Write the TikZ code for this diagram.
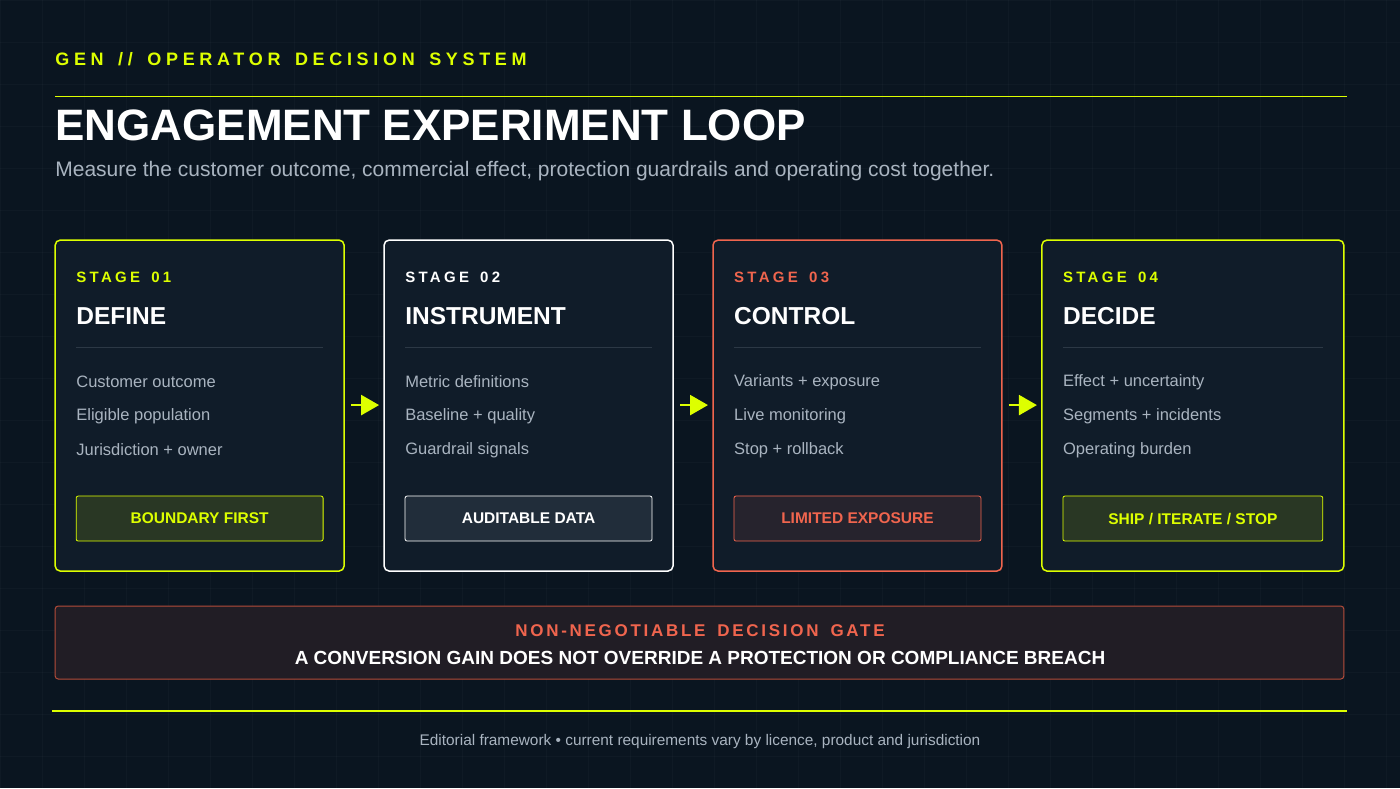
\documentclass[tikz,border=0pt]{standalone}
\usepackage{fontspec}
\usetikzlibrary{arrows.meta}
\setmainfont{Liberation Sans}
\newfontfamily\kickfont{Liberation Sans}[LetterSpace=26,WordSpace=1.5]
\newfontfamily\labfont{Liberation Sans}[LetterSpace=22,WordSpace=1.5]
\newfontfamily\gatefont{Liberation Sans}[LetterSpace=16,WordSpace=1.6]
\begin{document}
\definecolor{bg}{HTML}{0A1520}
\definecolor{card}{HTML}{101C29}
\definecolor{yel}{HTML}{DDFF00}
\definecolor{red}{HTML}{F0654E}
\definecolor{gtxt}{HTML}{A9B4C0}
\definecolor{rule}{HTML}{2C3845}
\begin{tikzpicture}[x=1pt,y=-1pt,
 cardbox/.style={draw=#1,line width=1.5pt,rounded corners=5pt,fill=card},
 lab/.style={anchor=west,font=\labfont\bfseries\fontsize{15}{17}\selectfont},
 ttl/.style={anchor=west,text=white,font=\bfseries\fontsize{24.5}{26}\selectfont},
 itm/.style={anchor=west,text=gtxt,font=\fontsize{16.5}{18}\selectfont},
 btn/.style={draw=#1,rounded corners=2pt,line width=0.8pt,font=\bfseries\fontsize{15.5}{17}\selectfont,text=#1},
 arr/.style={yel,line width=2.5pt,-{Triangle[length=18pt,width=20pt]}}]
\fill[bg] (0,0) rectangle (1400,788);
\foreach \x in {0,42,...,1400} \draw[white,opacity=0.025] (\x,0)--(\x,788);
\foreach \y in {0,42,...,788} \draw[white,opacity=0.025] (0,\y)--(1400,\y);
\useasboundingbox (0,0) rectangle (1400,788);
\node[anchor=west,inner sep=0pt,text=yel,font=\kickfont\bfseries\fontsize{18}{20}\selectfont] (kick) at (55,59) {GEN // OPERATOR DECISION SYSTEM};
\draw[yel,line width=1.2pt] (55,96) -- (1347,96);
\node[anchor=west,inner sep=0pt,text=white,font=\bfseries\fontsize{44}{48}\selectfont] (title) at (55,125) {ENGAGEMENT EXPERIMENT LOOP};
\node[anchor=west,inner sep=0pt,text=gtxt,font=\fontsize{21}{24}\selectfont] (sub) at (55,171) {Measure the customer outcome, commercial effect, protection guardrails and operating cost together.};
% cards
\foreach \i/\xa/\xb/\c/\lc/\n/\t/\a/\b/\cc/\btxt/\bf in {
 1/55/344/yel/yel/01/DEFINE/Customer outcome/Eligible population/Jurisdiction + owner/BOUNDARY FIRST/yel!12!card,
 2/384/673/white/white/02/INSTRUMENT/Metric definitions/Baseline + quality/Guardrail signals/AUDITABLE DATA/rule!60!card,
 3/713/1002/red/red/03/CONTROL/Variants + exposure/Live monitoring/Stop + rollback/LIMITED EXPOSURE/red!10!card,
 4/1042/1344/yel/yel/04/DECIDE/Effect + uncertainty/Segments + incidents/Operating burden/{SHIP / ITERATE / STOP}/yel!12!card}{
 \draw[cardbox=\c] (\xa,240) rectangle (\xb,571);
 \node[lab,inner sep=0pt,text=\lc] (l\i) at (\xa+21,277) {STAGE \n};
 \node[ttl,inner sep=0pt] (t\i) at (\xa+21,316) {\t};
 \draw[rule,line width=1pt] (\xa+21,347) -- (\xb-21,347);
 \node[itm,inner sep=0pt] (a\i) at (\xa+21,382) {\a};
 \node[itm,inner sep=0pt] (b\i) at (\xa+21,416) {\b};
 \node[itm,inner sep=0pt] (d\i) at (\xa+21,450) {\cc};
 \node[btn=\c,fill=\bf,minimum width={\xb-\xa-42},minimum height=45] (bt\i) at ({(\xa+\xb)/2},518.5) {\btxt};
}
\foreach \x/\i in {351/1,680/2,1009/3}{
 \coordinate (s\i) at (\x,405);
 \coordinate (e\i) at (\x+28,405);
 \draw[arr] (s\i) -- (e\i);}
% gate
\node[draw=red!75!black,fill=red!10!bg,rounded corners=3pt,line width=1pt,minimum width=1289,minimum height=73] (gate) at (699.5,642.5) {};
\node[text=red,font=\gatefont\bfseries\fontsize{17}{19}\selectfont] (g1) at (700,631) {NON-NEGOTIABLE DECISION GATE};
\node[text=white,font=\bfseries\fontsize{19}{21}\selectfont] (g2) at (700,658) {A CONVERSION GAIN DOES NOT OVERRIDE A PROTECTION OR COMPLIANCE BREACH};
\draw[yel,line width=1.2pt] (52,711) -- (1347,711);
\node[text=gtxt,font=\fontsize{15.4}{17}\selectfont] (foot) at (700,742) {Editorial framework • current requirements vary by licence, product and jurisdiction};
\end{tikzpicture}
\end{document}
